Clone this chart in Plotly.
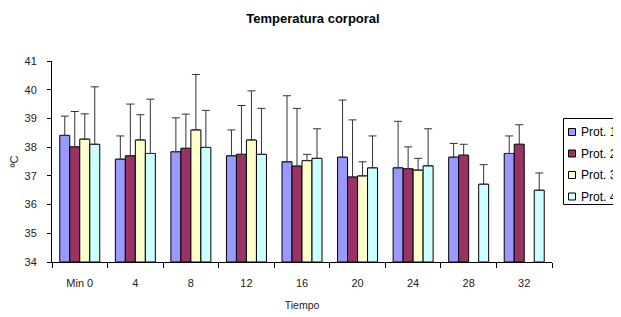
import plotly.graph_objects as go

categories = ["Min 0", "4", "8", "12", "16", "20", "24", "28", "32"]
series_names = ["Prot. 1", "Prot. 2", "Prot. 3", "Prot. 4"]
prot1 = [38.41, 37.58, 37.84, 37.70, 37.49, 37.65, 37.28, 37.65, 37.78]
prot2 = [38.01, 37.70, 37.96, 37.75, 37.34, 36.96, 37.25, 37.72, 38.10]
prot3 = [38.28, 38.25, 38.60, 38.25, 37.53, 37.00, 37.20, None, None]
prot4 = [38.10, 37.78, 37.99, 37.75, 37.61, 37.28, 37.35, 36.71, 36.50]
err1 = [0.67, 0.81, 1.18, 0.90, 2.30, 1.99, 1.62, 0.48, 0.61]
err2 = [1.23, 1.80, 1.19, 1.70, 2.01, 1.99, 0.76, 0.38, 0.68]
err3 = [0.88, 0.88, 1.93, 1.71, 0.22, 0.49, 0.41, None, None]
err4 = [2.00, 1.89, 1.29, 1.60, 1.03, 1.11, 1.29, 0.68, 0.60]
colors = ["#9999FF", "#993366", "#FFFFCC", "#CCFFFF"]
y_ticks = [34, 35, 36, 37, 38, 39, 40, 41]

# The page has an 8px body margin, so the figure is sized to fill the rest.
OFF = 8
W, H = 621 - OFF, 317 - OFF
ML, MR, MT, MB = 44, 69, 53, 55
PW, PH = W - ML - MR, H - MT - MB


def px(x):
    return (x - OFF - ML) / PW


def py(y):
    return (H - MB - (y - OFF)) / PH


font = "Liberation Sans, Arial, sans-serif"
fig = go.Figure()
for name, vals, errs, c in zip(series_names, [prot1, prot2, prot3, prot4],
                               [err1, err2, err3, err4], colors):
    fig.add_trace(go.Bar(
        x=categories, y=[v - 34 if v is not None else None for v in vals], base=34,
        name=name, marker=dict(color=c, line=dict(color="#000000", width=1)),
        error_y=dict(type="data", array=errs, symmetric=False,
                     arrayminus=[0] * len(errs), color="#333333",
                     thickness=1, width=4),
        showlegend=False,
    ))

# Custom legend box (reference legend is partly cut by the right edge)
shapes = [dict(type="rect", xref="paper", yref="paper",
               x0=px(563.5), x1=px(622), y0=py(204.5), y1=py(118.5),
               line=dict(color="#000000", width=1), fillcolor="white", layer="above")]
annotations = []
for i, (name, c) in enumerate(zip(series_names, colors)):
    cy = 132 + i * 21.5
    shapes.append(dict(type="rect", xref="paper", yref="paper",
                       x0=px(568.5), x1=px(575.5), y0=py(cy + 3.5), y1=py(cy - 3.5),
                       line=dict(color="#000000", width=1), fillcolor=c, layer="above"))
    annotations.append(dict(xref="paper", yref="paper", x=px(579), y=py(cy),
                            xanchor="left", yanchor="middle", showarrow=False,
                            text=name, font=dict(family=font, size=12, color="#000000")))

fig.update_layout(
    width=W, height=H,
    margin=dict(l=ML, r=MR, t=MT, b=MB, autoexpand=False),
    paper_bgcolor="white", plot_bgcolor="white",
    barmode="group", bargap=0.28, bargroupgap=0,
    title=dict(text="<b>Temperatura corporal</b>", x=(313 - OFF) / W, xanchor="center",
               y=1 - (18 - OFF) / H, yanchor="middle",
               font=dict(family=font, size=13, color="#000000")),
    font=dict(family=font, size=11, color="#222222"),
    showlegend=False,
    shapes=shapes, annotations=annotations,
    xaxis=dict(type="category", showline=True, linecolor="#000000", linewidth=1,
               ticks="outside", tickson="boundaries", ticklen=5,
               tickcolor="#000000", showgrid=False, ticklabelstandoff=11,
               title=dict(text="Tiempo", font=dict(size=10.5), standoff=13),
               tickfont=dict(size=11)),
    yaxis=dict(range=[34, 41], tickvals=y_ticks, showline=True,
               linecolor="#000000", linewidth=1, ticks="outside", ticklen=4,
               tickcolor="#000000", showgrid=False, zeroline=False,
               ticklabelstandoff=8,
               title=dict(text="ºC", font=dict(size=11), standoff=10),
               tickfont=dict(size=11)),
)

fig.write_html("out.html")
